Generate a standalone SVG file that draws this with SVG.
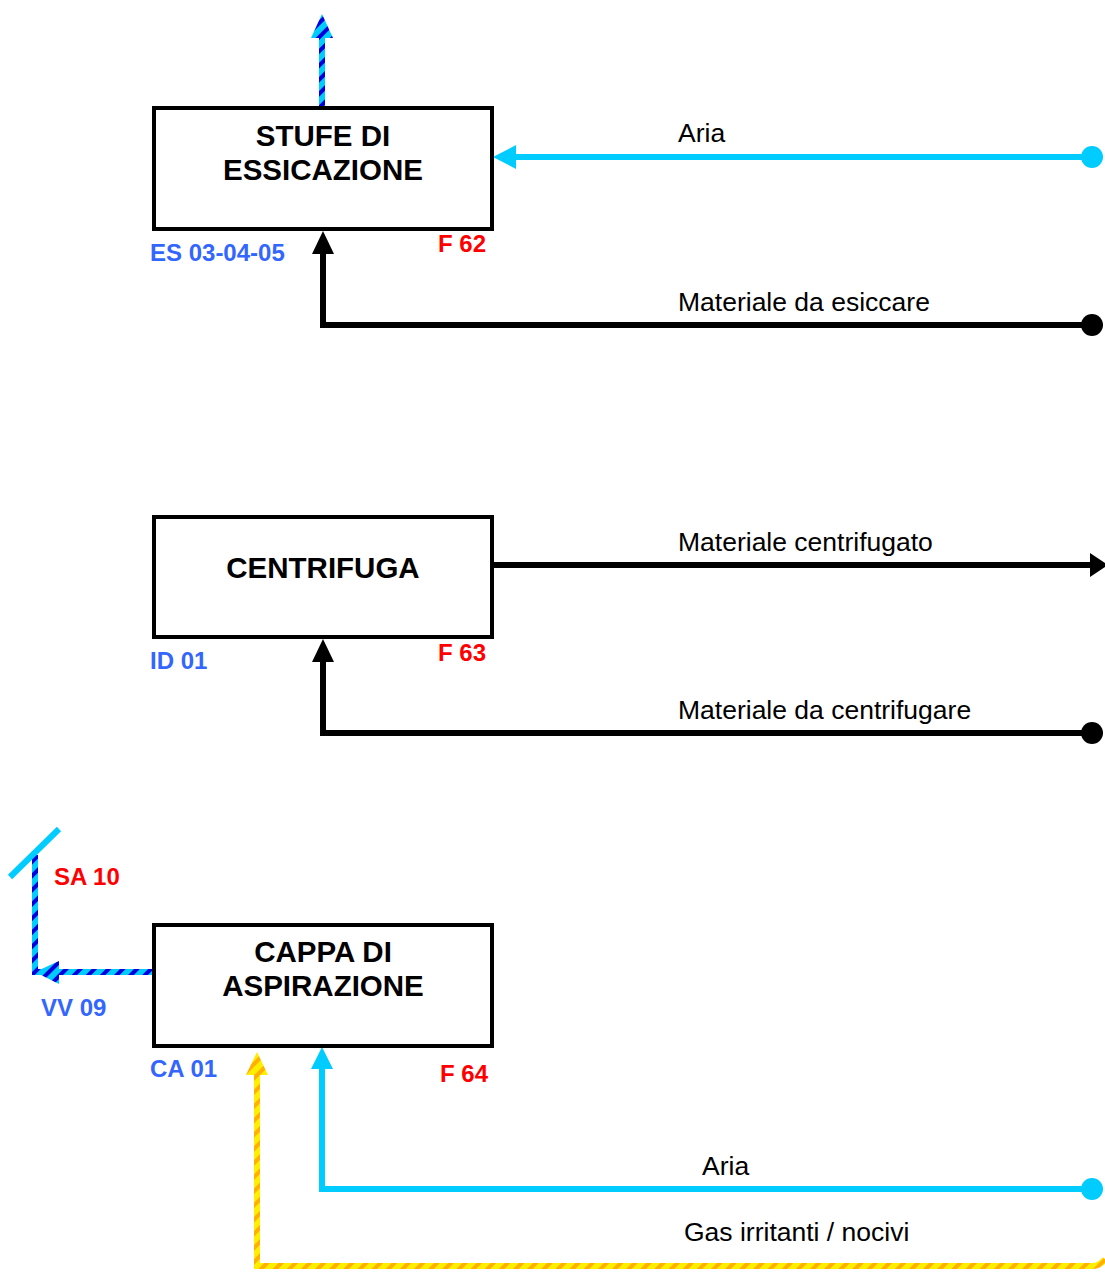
<svg xmlns="http://www.w3.org/2000/svg" width="1105" height="1272" viewBox="0 0 1105 1272">
<style>
.box{fill:#fff;stroke:#000;stroke-width:4}
.title{font-family:"Liberation Sans",Arial,sans-serif;font-weight:bold;font-size:29.5px;text-anchor:middle;fill:#000}
.lbl{font-family:"Liberation Sans",Arial,sans-serif;font-size:26.5px;fill:#000}
.code{font-family:"Liberation Sans",Arial,sans-serif;font-weight:bold;font-size:24px;fill:#3366ff}
.ref{font-family:"Liberation Sans",Arial,sans-serif;font-weight:bold;font-size:24px;fill:#ff0000}
.blk{fill:none;stroke:#000;stroke-width:6}
.cy{fill:none;stroke:#00ccff;stroke-width:6}
.str{fill:none;stroke:url(#stripeB);stroke-width:6}
.yel{fill:none;stroke:url(#stripeY);stroke-width:6}
</style>
<defs>
<pattern id="stripeB" patternUnits="userSpaceOnUse" width="10" height="10" patternTransform="rotate(45)">
<rect width="10" height="10" fill="#00ccff"/><rect width="4" height="10" fill="#0000dd"/>
</pattern>
<pattern id="stripeY" patternUnits="userSpaceOnUse" width="10" height="10" patternTransform="rotate(45)">
<rect width="10" height="10" fill="#ffee00"/><rect width="4" height="10" fill="#ffb000"/>
</pattern>
</defs>
<g id="connectors">
<line class="str" x1="322" y1="107" x2="322" y2="36"/>
<polygon points="322,14 311,38 333,38" fill="url(#stripeB)"/>
<line class="cy" x1="512" y1="157" x2="1092" y2="157"/>
<polygon points="493,157 516,145 516,169" fill="#00ccff"/>
<circle cx="1092" cy="157" r="11" fill="#00ccff"/>
<polyline class="blk" points="1092,325 323,325 323,250"/>
<polygon points="323,231 312,254 334,254" fill="#000"/>
<circle cx="1092" cy="325" r="11" fill="#000"/>
<line class="blk" x1="493" y1="565" x2="1092" y2="565"/>
<polygon points="1108,565 1090,553 1090,577" fill="#000"/>
<polyline class="blk" points="1092,733 323,733 323,658"/>
<polygon points="323,639 312,662 334,662" fill="#000"/>
<circle cx="1092" cy="733" r="11" fill="#000"/>
<polyline class="str" points="153,972 35,972 35,855"/>
<polygon points="35,972 59,961 59,984" fill="url(#stripeB)"/>
<line x1="10" y1="877" x2="59" y2="829" stroke="#00ccff" stroke-width="6"/>
<polyline class="cy" points="1092,1189 322,1189 322,1066"/>
<polygon points="322,1047 311,1069 333,1069" fill="#00ccff"/>
<circle cx="1092" cy="1189" r="11" fill="#00ccff"/>
<path class="yel" d="M257,1072 L257,1266 L1092,1266 Q1100,1266 1105,1259"/>
<polygon points="257,1052 246,1075 268,1075" fill="url(#stripeY)"/>
</g>
<g id="stufe">
<rect class="box" x="154" y="108" width="338" height="121"/>
<text class="title" x="323" y="146">STUFE DI</text>
<text class="title" x="323" y="180">ESSICAZIONE</text>
<text class="code" x="150" y="261">ES 03-04-05</text>
<text class="ref" x="438" y="252">F 62</text>
</g>
<g id="centrifuga">
<rect class="box" x="154" y="517" width="338" height="120"/>
<text class="title" x="323" y="578">CENTRIFUGA</text>
<text class="code" x="150" y="669">ID 01</text>
<text class="ref" x="438" y="661">F 63</text>
</g>
<g id="cappa">
<rect class="box" x="154" y="925" width="338" height="121"/>
<text class="title" x="323" y="962">CAPPA DI</text>
<text class="title" x="323" y="996">ASPIRAZIONE</text>
<text class="code" x="150" y="1077">CA 01</text>
<text class="ref" x="440" y="1082">F 64</text>
<text class="ref" x="54" y="885">SA 10</text>
<text class="code" x="41" y="1016">VV 09</text>
</g>
<g id="labels">
<text class="lbl" x="678" y="142">Aria</text>
<text class="lbl" x="678" y="311">Materiale da esiccare</text>
<text class="lbl" x="678" y="551">Materiale centrifugato</text>
<text class="lbl" x="678" y="719">Materiale da centrifugare</text>
<text class="lbl" x="702" y="1175">Aria</text>
<text class="lbl" x="684" y="1241">Gas irritanti / nocivi</text>
</g>
</svg>
